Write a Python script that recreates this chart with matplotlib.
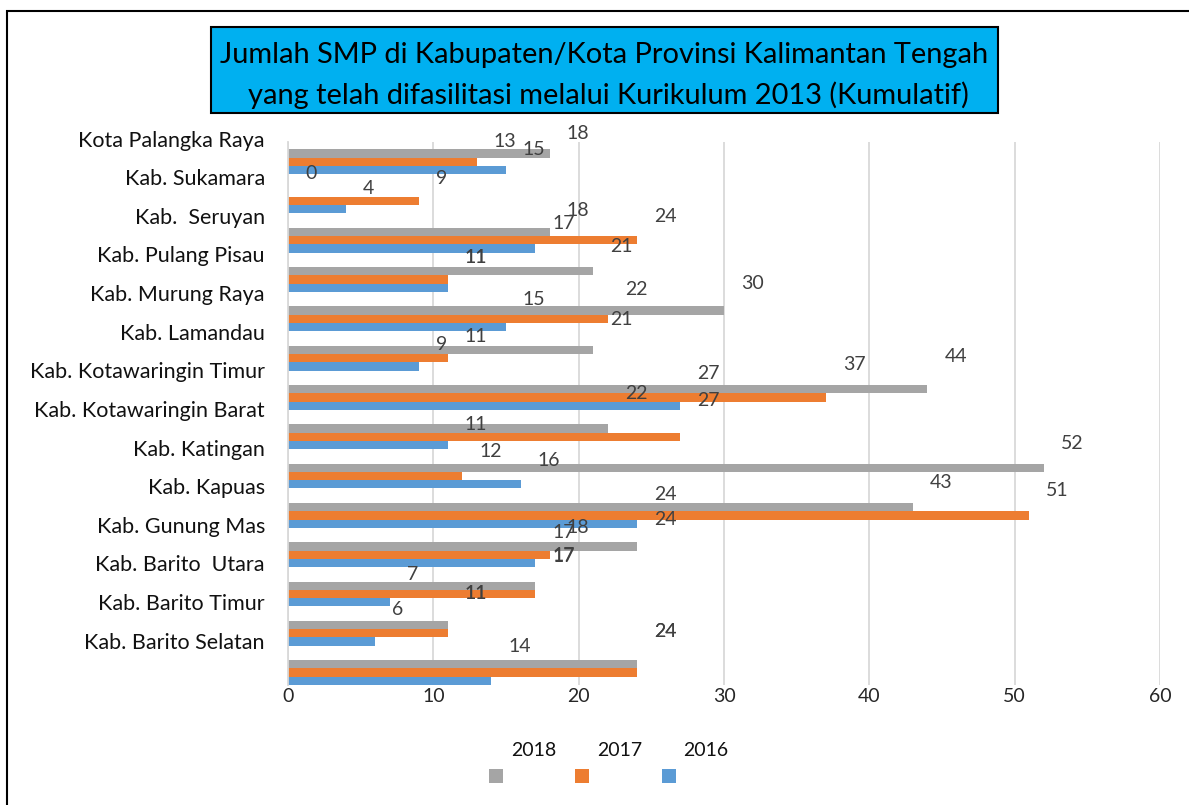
import matplotlib
matplotlib.use('Agg')
import matplotlib.pyplot as plt
import numpy as np
from matplotlib.patches import Rectangle

# ---------------- data ----------------
categories = [
    "Kota Palangka Raya", "Kab. Sukamara", "Kab.  Seruyan", "Kab. Pulang Pisau",
    "Kab. Murung Raya", "Kab. Lamandau", "Kab. Kotawaringin Timur",
    "Kab. Kotawaringin Barat", "Kab. Katingan", "Kab. Kapuas", "Kab. Gunung Mas",
    "Kab. Barito  Utara", "Kab. Barito Timur", "Kab. Barito Selatan",
]
years = ["2018", "2017", "2016"]
v2018 = [18, 0, 18, 21, 30, 21, 44, 22, 52, 43, 24, 17, 11, 24]
v2017 = [13, 9, 24, 11, 22, 11, 37, 27, 12, 51, 18, 17, 11, 24]
v2016 = [15, 4, 17, 11, 15, 9, 27, 11, 16, 24, 17, 7, 6, 14]
xticks = [0, 10, 20, 30, 40, 50, 60]
title_lines = ["Jumlah SMP di Kabupaten/Kota Provinsi Kalimantan Tengah",
               "yang telah difasilitasi melalui Kurikulum 2013 (Kumulatif)"]

# ---------------- style ----------------
colors = ["#A5A5A5", "#ED7D31", "#5B9BD5"]
# vertical displacement (px, negative = up) of each data label's centre
# relative to its bar centre, per group: (2018, 2017, 2016) -- as placed in the original
label_dy_px = [
    (-21.5, -22, -22), (-21, -23.5, -22), (-22.5, -25, -26.5), (-26, -23.5, -32),
    (-29, -31, -29), (-32, -23.5, -23.5), (-34, -34, -33.5), (-36, -38, -22.5),
    (-25.5, -26.5, -25), (-26, -26, -31), (-28.5, -29, -31.5), (-31, -40, -29.5),
    (-33, -41, -33.5), (-34.5, -43, -35.5),
]

plt.rcParams['font.family'] = ['Lato', 'DejaVu Sans']

W, H = 1189, 805
fig = plt.figure(figsize=(W / 100, H / 100), dpi=100)


def fx(px):
    return px / W


def fy(py):
    return 1 - py / H


ax = fig.add_axes([fx(288), fy(685), fx(1160) - fx(288), fy(142) - fy(685)])

n = len(categories)
idx = np.arange(n)
h = 0.211
for s, (vals, col, off) in enumerate(zip([v2018, v2017, v2016], colors, [-h, 0, h])):
    ax.barh(idx + off, vals, height=h, color=col, zorder=2)
    for i, v in enumerate(vals):
        dy_pt = -(label_dy_px[i][s] + 7) * 0.72
        ax.annotate(str(v), (v, i + off), xytext=(12.2, dy_pt),
                    textcoords='offset points', ha='left', va='baseline',
                    fontsize=14, color='#404040', zorder=3,
                    annotation_clip=False)

ax.set_xlim(0, 60)
ax.set_ylim(n - 1 + 1.5 * h, -0.5)
ax.set_xticks(xticks)
ax.set_xticklabels([str(t) for t in xticks])
ax.grid(axis='x', color='#D9D9D9', lw=1.3, zorder=0)
ax.set_axisbelow(True)
for sp in ['top', 'right', 'bottom']:
    ax.spines[sp].set_visible(False)
ax.spines['left'].set_color('#D9D9D9')
ax.spines['left'].set_linewidth(1.3)

ypos = -0.382 + idx * 0.9825
ax.set_yticks(ypos)
ax.set_yticklabels(categories)
for lab in ax.get_yticklabels():
    lab.set_va('baseline')
ax.tick_params(axis='y', length=0, pad=16.6, labelsize=15.5, labelcolor='#111111')
ax.tick_params(axis='x', length=0, pad=2, labelsize=14, labelcolor='#262626')

# title box
fig.add_artist(Rectangle((fx(211), fy(113)), fx(998) - fx(211), (113 - 27) / H,
                         transform=fig.transFigure, facecolor='#00B0F0',
                         edgecolor='black', lw=1.5))
renderer = fig.canvas.get_renderer()
t1 = fig.text(fx(604), fy(63), title_lines[0], ha='center', va='baseline',
              fontsize=18, color='black')
w1 = t1.get_window_extent(renderer).width
fs = 18 * 768 / w1
t1.set_fontsize(fs)
fig.text(fx(608), fy(104), title_lines[1], ha='center', va='baseline',
         fontsize=fs, color='black')

# outer border
fig.add_artist(Rectangle((fx(7), -0.02), 1.05, fy(11) + 0.02,
                         transform=fig.transFigure, fill=False,
                         edgecolor='black', lw=1.5))

# legend
leg_text_x = [533.5, 620, 706]
leg_sq_x = [489, 575, 662]
for yr, col, tx, sx in zip(years, colors, leg_text_x, leg_sq_x):
    fig.text(fx(tx), fy(756), yr, ha='center', va='baseline', fontsize=14,
             color='#111111')
    fig.add_artist(Rectangle((fx(sx), fy(783)), 14 / W, 14 / H,
                             transform=fig.transFigure, facecolor=col,
                             edgecolor='none'))

fig.savefig('out.png', dpi=100)
